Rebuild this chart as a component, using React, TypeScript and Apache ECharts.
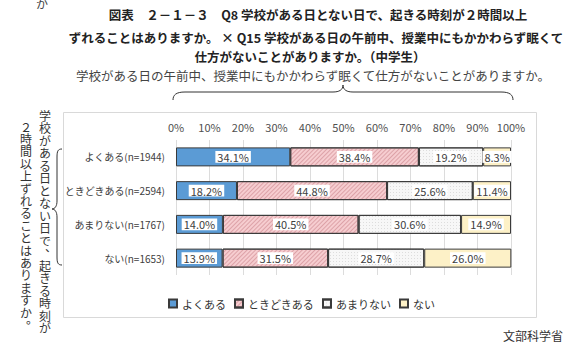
import React, { useEffect, useRef } from "react";
import * as echarts from "echarts";

const categories = ["よくある(n=1944)", "ときどきある(n=2594)", "あまりない(n=1767)", "ない(n=1653)"];
const seriesNames = ["よくある", "ときどきある", "あまりない", "ない"];
const yokuaru = [34.1, 18.2, 14.0, 13.9];
const tokidoki = [38.4, 44.8, 40.5, 31.5];
const amari = [19.2, 25.6, 30.6, 28.7];
const nai = [8.3, 11.4, 14.9, 26.0];
const xTicks = { min: 0, max: 100, interval: 10 };

const titleLines = [
  "図表　２－１－３　Q8 学校がある日とない日で、起きる時刻が２時間以上",
  "ずれることはありますか。 × Q15 学校がある日の午前中、授業中にもかかわらず眠くて",
  "仕方がないことがありますか。（中学生）",
];
const subTitle = "学校がある日の午前中、授業中にもかかわらず眠くて仕方がないことがありますか。";
const vertCol1 = "学校がある日とない日で、起きる時刻が";
const vertCol2 = "２時間以上ずれることはありますか。";
const source = "文部科学省";

const FONT = "'Noto Sans CJK JP', 'Noto Sans', sans-serif";

let registered = false;
function registerShapes() {
  if (registered) return;
  registered = true;
  echarts.graphic.registerShape(
    "hbrace",
    echarts.graphic.extendPath(
      "M0,15 C0,10 3,7 12,7 L160,7 C166,7 170,5 170,0 C170,5 174,7 180,7 L328,7 C337,7 340,10 340,15",
      {}
    )
  );
  echarts.graphic.registerShape(
    "vbrace",
    echarts.graphic.extendPath(
      "M10,0 C6,0 5,2 5,8 L5,52 C5,57 3,60 0,60 C3,60 5,63 5,68 L5,108 C5,114 6,116 10,116",
      {}
    )
  );
}

function verticalText(text: string, x: number, y0: number, step: number) {
  return text.split("").map((ch, i) => {
    const punct = ch === "、" || ch === "。";
    return {
      type: "text",
      x: punct ? x + 6 : x,
      y: punct ? y0 + i * step - 6 : y0 + i * step,
      style: {
        text: ch,
        fill: "#333",
        font: `12px ${FONT}`,
        textAlign: "center",
        textVerticalAlign: "middle",
      },
    };
  });
}

export default function App() {
  const ref = useRef<HTMLDivElement>(null);
  useEffect(() => {
    if (!ref.current) return;
    registerShapes();
    const chart = echarts.init(ref.current, undefined, { renderer: "svg" });
    const border = { borderColor: "#3a3a3a", borderWidth: 1 };
    const label = {
      show: true,
      position: "inside",
      formatter: (p: any) => Number(p.value).toFixed(1) + "%",
      color: "#404040",
      fontSize: 11,
      fontFamily: FONT,
      backgroundColor: "#ffffff",
      padding: [1, 2, 0, 2],
    };
    const mk = (name: string, data: number[], itemStyle: any) => ({
      name,
      type: "bar",
      stack: "all",
      data,
      barWidth: 19,
      label,
      itemStyle: { ...border, ...itemStyle },
    });
    const titleGraphics = titleLines.map((t, i) => ({
      type: "text",
      x: [318, 316, 310][i],
      y: [14, 37, 56][i],
      style: {
        text: t,
        fill: "#222",
        font: `bold 12.5px ${FONT}`,
        textAlign: "center",
        textVerticalAlign: "middle",
      },
    }));
    chart.setOption({
      animation: false,
      backgroundColor: "#ffffff",
      grid: { left: 176, right: 59, top: 140, bottom: 69, containLabel: false },
      xAxis: {
        type: "value",
        position: "top",
        min: xTicks.min,
        max: xTicks.max,
        interval: xTicks.interval,
        axisLabel: { formatter: "{value}%", color: "#505050", fontSize: 11, fontFamily: FONT, margin: 8 },
        axisLine: { show: false },
        axisTick: { show: false },
        splitLine: { lineStyle: { color: "#dcdcdc" } },
      },
      yAxis: {
        type: "category",
        inverse: true,
        data: categories,
        axisLabel: { color: "#404040", fontSize: 10, fontFamily: FONT, margin: 11 },
        axisLine: { show: false },
        axisTick: { show: false },
      },
      legend: {
        data: seriesNames,
        left: 163,
        top: 293,
        icon: "rect",
        itemWidth: 8,
        itemHeight: 8,
        itemGap: 8,
        textStyle: { color: "#333", fontSize: 11, fontFamily: FONT },
      },
      series: [
        mk(seriesNames[0], yokuaru, { color: "#5b9bd5" }),
        mk(seriesNames[1], tokidoki, {
          color: "#f6cdd0",
          decal: {
            symbol: "rect",
            color: "rgba(190,110,120,0.45)",
            dashArrayX: [1, 0],
            dashArrayY: [1, 2],
            rotation: -Math.PI / 4,
          },
        }),
        mk(seriesNames[2], amari, {
          color: "#f7f7f7",
          decal: {
            symbol: "rect",
            color: "rgba(170,170,170,0.35)",
            dashArrayX: [1, 2],
            dashArrayY: [1, 2],
          },
        }),
        mk(seriesNames[3], nai, { color: "#fdf1c7" }),
      ],
      graphic: [
        {
          type: "rect",
          z: -10,
          shape: { x: 63.5, y: 112.5, width: 473, height: 205 },
          style: { fill: "none", stroke: "#d9d9d9", lineWidth: 1 },
        },
        ...titleGraphics,
        {
          type: "text",
          x: 313,
          y: 75,
          style: {
            text: subTitle,
            fill: "#444",
            font: `12.5px ${FONT}`,
            textAlign: "center",
            textVerticalAlign: "middle",
          },
        },
        {
          type: "text",
          x: 42,
          y: -3,
          style: { text: "か", fill: "#444", font: `12px ${FONT}`, textAlign: "center" },
        },
        {
          type: "hbrace",
          x: 173,
          y: 85,
          style: { fill: "none", stroke: "#333", lineWidth: 1 },
        },
        {
          type: "vbrace",
          x: 52,
          y: 149,
          style: { fill: "none", stroke: "#333", lineWidth: 1 },
        },
        ...verticalText(vertCol1, 45, 115, 12.5),
        ...verticalText(vertCol2, 26, 126, 12.4),
        {
          type: "text",
          x: 563,
          y: 335,
          style: {
            text: source,
            fill: "#333",
            font: `12px ${FONT}`,
            textAlign: "right",
            textVerticalAlign: "middle",
          },
        },
      ],
    });
    return () => chart.dispose();
  }, []);
  return (
    <div
      ref={ref}
      style={{ position: "fixed", left: 0, top: 0, width: 570, height: 344 }}
    />
  );
}
